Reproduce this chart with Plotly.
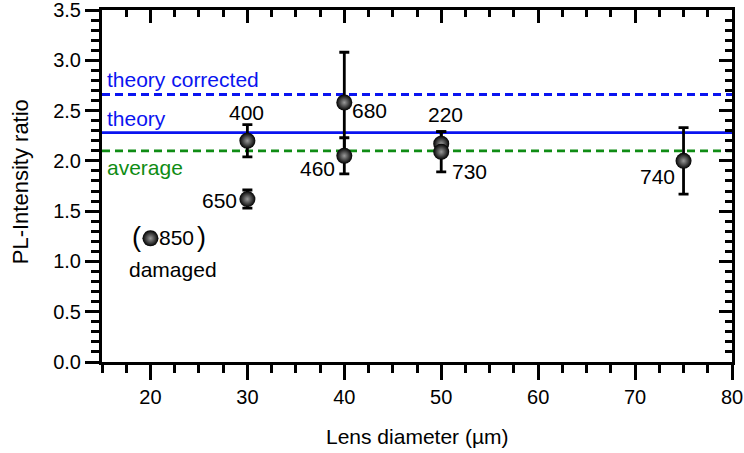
import plotly.graph_objects as go

# Data
diam = [20, 30, 30, 40, 40, 50, 50, 75]
ratio = [1.23, 1.62, 2.20, 2.58, 2.05, 2.17, 2.09, 2.00]
err = [0.05, 0.09, 0.16, 0.50, 0.18, 0.12, 0.20, 0.33]
labels = ["850", "650", "400", "680", "460", "220", "730", "740"]
label_x = [22.7, 27.1, 29.9, 42.6, 37.2, 50.4, 52.9, 72.3]
label_y = [1.24, 1.61, 2.48, 2.50, 1.92, 2.46, 1.89, 1.84]

theory_corrected = 2.66
theory = 2.28
average = 2.10
x_range = [15, 80]
y_range = [0, 3.5]

FONT = "Liberation Sans, Arial, sans-serif"
BLUE = "#0a14f0"
GREEN = "#0f8c14"

fig = go.Figure()

fig.add_trace(go.Scatter(x=x_range, y=[theory_corrected] * 2, mode="lines",
                         line=dict(color=BLUE, width=2.8, dash="8px,5px"), showlegend=False))
fig.add_trace(go.Scatter(x=x_range, y=[theory] * 2, mode="lines",
                         line=dict(color=BLUE, width=2.8), showlegend=False))
fig.add_trace(go.Scatter(x=x_range, y=[average] * 2, mode="lines",
                         line=dict(color=GREEN, width=2.8, dash="8px,5px"), showlegend=False))

fig.add_trace(go.Scatter(
    x=diam, y=ratio, mode="markers",
    error_y=dict(type="data", array=err, color="black", thickness=2.8, width=5),
    marker=dict(size=16, color="black", gradient=dict(type="radial", color="#9a9a9a"),
                line=dict(width=0)),
    showlegend=False))

# invisible trace for secondary axes
fig.add_trace(go.Scatter(x=x_range, y=y_range, xaxis="x2", yaxis="y2", mode="markers",
                         marker=dict(opacity=0), showlegend=False, hoverinfo="skip"))

annotations = []
for t, lx, ly in zip(labels, label_x, label_y):
    annotations.append(dict(x=lx, y=ly, text=t, showarrow=False,
                            font=dict(family=FONT, size=21, color="black")))
annotations += [
    dict(x=18.6, y=1.24, text="(", showarrow=False, font=dict(family=FONT, size=27, color="black")),
    dict(x=25.3, y=1.24, text=")", showarrow=False, font=dict(family=FONT, size=27, color="black")),
    dict(x=22.3, y=0.92, text="damaged", showarrow=False, font=dict(family=FONT, size=21, color="black")),
    dict(x=15.3, y=2.81, text="theory corrected", xanchor="left", showarrow=False,
         font=dict(family=FONT, size=21, color=BLUE)),
    dict(x=15.3, y=2.42, text="theory", xanchor="left", showarrow=False,
         font=dict(family=FONT, size=21, color=BLUE)),
    dict(x=15.3, y=1.93, text="average", xanchor="left", showarrow=False,
         font=dict(family=FONT, size=21, color=GREEN)),
    dict(xref="paper", yref="paper", x=0.5, y=-0.213, text="Lens diameter (µm)",
         showarrow=False, yanchor="middle", font=dict(family=FONT, size=21, color="black")),
    dict(xref="paper", yref="paper", x=-0.130, y=0.511, text="PL-Intensity ratio", textangle=-90,
         showarrow=False, xanchor="center", yanchor="middle", font=dict(family=FONT, size=22, color="black")),
]

fig.update_layout(
    width=744, height=453,
    margin=dict(l=102, r=12, t=10, b=91),
    plot_bgcolor="white", paper_bgcolor="white",
    font=dict(family=FONT, size=20, color="black"),
    annotations=annotations,
    xaxis=dict(range=x_range, showgrid=False, zeroline=False, showline=True, automargin=False,
               linecolor="black", linewidth=3, ticks="outside", ticklen=15, tickwidth=2.5,
               tickcolor="black", tick0=0, dtick=10, ticklabeloverflow="allow",
               minor=dict(ticks="outside", ticklen=8, tickwidth=2.5, tickcolor="black", dtick=2.5, tick0=0),
               tickfont=dict(family=FONT, size=20)),
    yaxis=dict(range=y_range, showgrid=False, zeroline=False, showline=True, automargin=False,
               linecolor="black", linewidth=3, ticks="outside", ticklen=14, tickwidth=2.5,
               tickcolor="black", tick0=0, dtick=0.5, tickformat=".1f", ticklabeloverflow="allow",
               minor=dict(ticks="outside", ticklen=8, tickwidth=2.5, tickcolor="black", dtick=0.1, tick0=0),
               tickfont=dict(family=FONT, size=20)),
    xaxis2=dict(range=x_range, overlaying="x", side="top", showgrid=False, zeroline=False, automargin=False,
                showline=True, linecolor="black", linewidth=3, ticks="inside", ticklen=13,
                tickwidth=2.5, tickcolor="black", tick0=0, dtick=10, showticklabels=False,
                minor=dict(ticks="inside", ticklen=7, tickwidth=2.5, tickcolor="black", dtick=2.5, tick0=0)),
    yaxis2=dict(range=y_range, overlaying="y", side="right", showgrid=False, zeroline=False, automargin=False,
                showline=True, linecolor="black", linewidth=3, ticks="inside", ticklen=13,
                tickwidth=2.5, tickcolor="black", tick0=0, dtick=0.5, showticklabels=False,
                minor=dict(ticks="inside", ticklen=7, tickwidth=2.5, tickcolor="black", dtick=0.1, tick0=0)),
)

fig.write_html("out.html")
